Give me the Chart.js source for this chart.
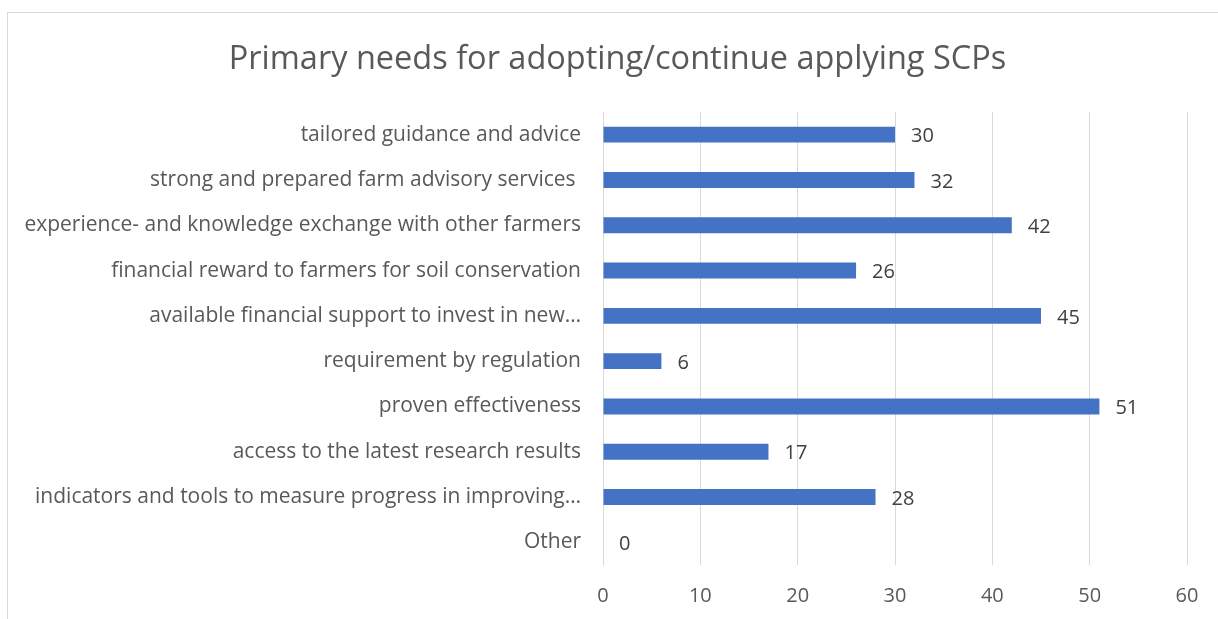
<!DOCTYPE html>
<html>
<head>
<meta charset="utf-8">
<script src="https://cdn.jsdelivr.net/npm/chart.js@4.4.1/dist/chart.umd.min.js"></script>
<style>
  html, body { margin: 0; padding: 0; background: #fff; overflow: hidden; }
  #wrap { position: relative; width: 1218px; height: 619px; overflow: hidden; }
  #frame {
    position: absolute; left: 7px; top: 12px; right: 0; bottom: 0;
    border-left: 1px solid #d9d9d9; border-top: 1px solid #d9d9d9;
  }
  canvas { position: absolute; left: 0; top: 0; }
</style>
</head>
<body>
<div id="wrap">
  <div id="frame"></div>
  <canvas id="chart" width="1218" height="619"></canvas>
</div>
<script>
// categories, top to bottom
const needs = [
  "tailored guidance and advice",
  "strong and prepared farm advisory services ",
  "experience- and knowledge exchange with other farmers",
  "financial reward to farmers for soil conservation",
  "available financial support to invest in new\u2026",
  "requirement by regulation",
  "proven effectiveness",
  "access to the latest research results",
  "indicators and tools to measure progress in improving\u2026",
  "Other"
];
const counts = [30, 32, 42, 26, 45, 6, 51, 17, 28, 0];
const xTicks = [0, 10, 20, 30, 40, 50, 60];

const FONT = "'Open Sans', sans-serif";
const GREY = "#595959";

// value written just past the end of each bar
const valueLabels = {
  id: "valueLabels",
  afterDatasetsDraw(chart) {
    const ctx = chart.ctx;
    const meta = chart.getDatasetMeta(0);
    ctx.save();
    ctx.font = "20px " + FONT;
    ctx.fillStyle = "#404040";
    ctx.textAlign = "left";
    ctx.textBaseline = "middle";
    meta.data.forEach((bar, i) => {
      ctx.fillText(String(counts[i]), bar.x + 16, bar.y + 2);
    });
    ctx.restore();
  }
};

// centre the title across the whole frame, not just the padded layout box
const titleSpan = {
  id: "titleSpan",
  afterLayout(chart) {
    if (chart.titleBlock) {
      chart.titleBlock.left = 17;
      chart.titleBlock.right = chart.width;
    }
  }
};

new Chart(document.getElementById("chart"), {
  type: "bar",
  data: {
    labels: needs,
    datasets: [{
      data: counts,
      backgroundColor: "#4472C4",
      borderWidth: 0,
      categoryPercentage: 1,
      barPercentage: 0.35
    }]
  },
  options: {
    indexAxis: "y",
    responsive: false,
    animation: false,
    layout: { padding: { left: 0, right: 31, top: 0, bottom: 0 } },
    plugins: {
      legend: { display: false },
      tooltip: { enabled: false },
      title: {
        display: true,
        text: "Primary needs for adopting/continue applying SCPs",
        color: GREY,
        font: { family: FONT, size: 32.5, weight: "normal" },
        padding: { top: 40, bottom: 33 }
      }
    },
    scales: {
      x: {
        min: xTicks[0],
        max: xTicks[xTicks.length - 1],
        afterBuildTicks(axis) {
          axis.ticks = xTicks.map(v => ({ value: v }));
        },
        afterFit(axis) { axis.height = 54; },
        grid: { color: "#d9d9d9", lineWidth: 1, drawTicks: false },
        border: { display: false },
        ticks: { color: GREY, font: { family: FONT, size: 20 }, padding: 19 }
      },
      y: {
        afterFit(axis) { axis.width = 603; },
        grid: { display: false, drawTicks: false },
        border: { display: true, color: "#d9d9d9", width: 1 },
        ticks: { color: GREY, font: { family: FONT, size: 21 }, padding: 22, autoSkip: false }
      }
    }
  },
  plugins: [valueLabels, titleSpan]
});
</script>
</body>
</html>
